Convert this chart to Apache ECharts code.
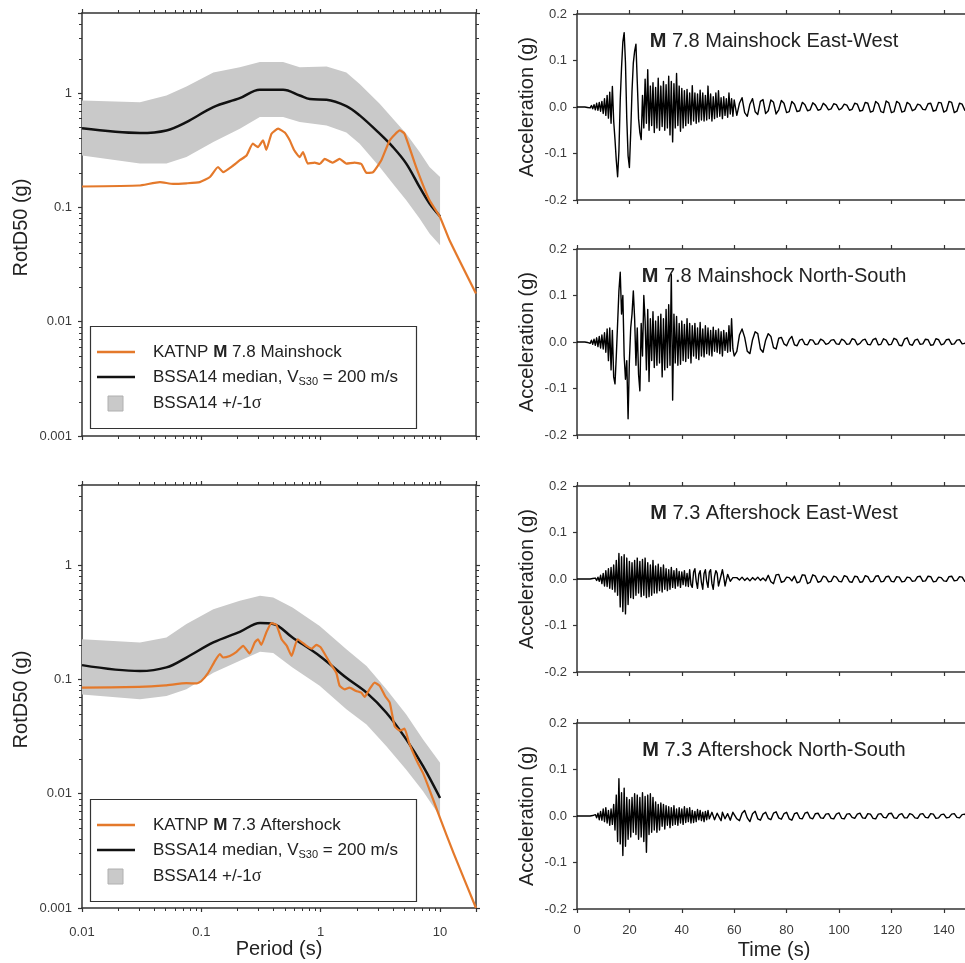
<!DOCTYPE html>
<html>
<head>
<meta charset="utf-8">
<title>KATNP response spectra and acceleration records</title>
<script src="https://cdn.jsdelivr.net/npm/echarts@6/dist/echarts.min.js"></script>
<style>
  html, body { margin: 0; padding: 0; background: #ffffff; }
  #chart { width: 965px; height: 963px; }
</style>
</head>
<body>
<div id="chart"></div>
<script>
// ---------------- Response spectra (RotD50, g) ----------------
// M 7.8 mainshock, KATNP record
const mainObsPeriod = [0.01, 0.03, 0.045, 0.058, 0.075, 0.097, 0.118, 0.138, 0.152, 0.185,
  0.21, 0.239, 0.27, 0.298, 0.329, 0.35, 0.387, 0.44, 0.5, 0.55,
  0.6, 0.667, 0.71, 0.78, 0.89, 0.98, 1.08, 1.26, 1.44, 1.64,
  1.92, 2.19, 2.42, 2.75, 3.22, 3.79, 4.6, 5.04, 6.3, 8.16,
  10, 12, 20];
const mainObsSa = [0.152, 0.155, 0.166, 0.16, 0.162, 0.166, 0.184, 0.225, 0.203, 0.232,
  0.258, 0.284, 0.36, 0.336, 0.385, 0.318, 0.44, 0.487, 0.45, 0.385,
  0.315, 0.275, 0.304, 0.241, 0.246, 0.239, 0.265, 0.246, 0.265, 0.241,
  0.246, 0.239, 0.2, 0.203, 0.258, 0.385, 0.47, 0.44, 0.225, 0.115,
  0.082, 0.0515, 0.0176];

// BSSA14 prediction for the mainshock
const mainMedianPeriod = [0.01, 0.0306, 0.051, 0.075, 0.126, 0.21, 0.309, 0.484, 0.667, 0.81,
  1.12, 1.64, 2.12, 3.12, 4.03, 5.21, 6.74, 8.16, 10];
const mainMedianSa = [0.49, 0.446, 0.47, 0.556, 0.752, 0.9, 1.067, 1.067, 0.95, 0.883,
  0.873, 0.767, 0.636, 0.44, 0.336, 0.241, 0.15, 0.108, 0.0834];
const mainSigmaPeriod = [0.01, 0.0306, 0.051, 0.075, 0.126, 0.21, 0.309, 0.484, 0.667, 1.12,
  1.64, 2.12, 3.12, 4.03, 5.21, 6.74, 8.16, 10];
const mainSigmaUpper = [0.86, 0.83, 0.95, 1.14, 1.51, 1.68, 1.86, 1.86, 1.68, 1.7,
  1.51, 1.2, 0.805, 0.595, 0.44, 0.304, 0.225, 0.184];
const mainSigmaLower = [0.284, 0.241, 0.241, 0.275, 0.372, 0.487, 0.615, 0.615, 0.556, 0.52,
  0.45, 0.36, 0.225, 0.161, 0.115, 0.0796, 0.0589, 0.0466];

// M 7.3 aftershock, KATNP record
const afterObsPeriod = [0.01, 0.03, 0.05, 0.075, 0.091, 0.1, 0.114, 0.13, 0.143, 0.152,
  0.173, 0.197, 0.224, 0.254, 0.28, 0.298, 0.318, 0.35, 0.387, 0.425,
  0.47, 0.52, 0.57, 0.64, 0.76, 0.84, 0.92, 1.0, 1.19, 1.35,
  1.44, 1.59, 1.74, 1.98, 2.19, 2.33, 2.56, 2.83, 3.12, 3.47,
  3.79, 4.16, 4.6, 5.04, 5.5, 6.3, 7.2, 8.16, 10, 13,
  20];
const afterObsSa = [0.0844, 0.086, 0.0886, 0.0925, 0.092, 0.0966, 0.114, 0.145, 0.166, 0.155,
  0.16, 0.174, 0.196, 0.168, 0.21, 0.224, 0.2, 0.257, 0.31, 0.3,
  0.224, 0.196, 0.16, 0.224, 0.196, 0.185, 0.2, 0.19, 0.14, 0.114,
  0.0876, 0.0817, 0.0844, 0.079, 0.0764, 0.07, 0.0817, 0.0934, 0.0876, 0.071,
  0.0623, 0.039, 0.0355, 0.037, 0.0278, 0.0199, 0.0151, 0.0108, 0.0061, 0.003,
  0.001];

// BSSA14 prediction for the aftershock
const afterModelPeriod = [0.01, 0.0306, 0.051, 0.075, 0.126, 0.21, 0.31, 0.4, 0.58, 0.98,
  1.64, 2.42, 3.55, 5.21, 7.2, 10];
const afterMedianSa = [0.133, 0.118, 0.127, 0.155, 0.21, 0.26, 0.31, 0.305, 0.232, 0.16,
  0.103, 0.0764, 0.051, 0.0298, 0.0174, 0.00916];
const afterSigmaUpper = [0.224, 0.21, 0.232, 0.304, 0.41, 0.486, 0.538, 0.52, 0.425, 0.293,
  0.183, 0.131, 0.0817, 0.0493, 0.0298, 0.0186];
const afterSigmaLower = [0.0738, 0.0668, 0.0715, 0.0817, 0.114, 0.145, 0.174, 0.17, 0.127, 0.0876,
  0.0546, 0.0403, 0.026, 0.0162, 0.0105, 0.0063];

// ---------------- Acceleration records (milli-g) ----------------
// Samples every 0.5 s from 0 to 60 s (121 values), then every 1 s from 61 to 150 s (90 values).
const mainEW_mg = [
  0, 0, 0, 0, 0, 0, 0, 1, -1, 2,
  -2, 3, -4, 5, -6, 8, -7, 10, -9, 12,
  -14, 18, -18, 25, -24, 32, -35, 44, -30, -70,
  -115, -150, -95, 15, 85, 140, 160, 95, -25, -105,
  -130, -55, 35, 95, 120, 135, 55, -25, -55, -70,
  25, -45, 60, -35, 80, -50, 45, -40, 52, -55,
  42, -45, 62, -50, 45, -42, 55, -50, 48, -45,
  66, -60, 55, -75, 50, -45, 72, -40, 45, -52,
  40, -45, 35, -40, 38, -35, 30, -38, 46, -30,
  30, -35, 28, -32, 36, -28, 30, -30, 25, -28,
  45, -25, 28, -30, 22, -25, 30, -22, 35, -20,
  20, -25, 22, -18, 18, -22, 30, -15, 18, -20,
  15,
  -18, 8, 20, -12, -20, 6, 18, -10, -16, 12,
  16, -14, -8, 15, 10, -15, -6, 14, 8, -12,
  -10, 12, 6, -10, -8, 10, 5, -8, -6, 9,
  4, -7, -5, 8, 3, -6, -4, 7, 5, -6,
  -3, 6, 4, -7, -5, 8, 6, -9, -7, 10,
  8, -11, -9, 12, 7, -10, -12, 13, 9, -12,
  -10, 12, 8, -11, -9, 10, 6, -8, -5, 6,
  4, -5, -6, 7, 8, -9, -7, 10, 9, -11,
  -8, 12, 10, -12, -9, 8, 6, -7, -5, 6
];
const mainNS_mg = [
  0, 0, 0, 0, 0, 0, 0, 1, -1, 2,
  -3, 4, -5, 6, -7, 9, -10, 12, -13, 15,
  -15, 20, -22, 28, -40, 30, -60, 25, -75, -90,
  -30, 40, 110, 150, 60, 100, -30, -80, -40, -165,
  -40, 30, 60, 110, 50, -50, 30, -70, -105, 40,
  -30, 100, 45, -60, 70, -85, 50, -40, 65, -55,
  45, -50, 55, -45, 60, -75, 50, -60, 70, -55,
  80, -50, 145, -125, 60, -45, 55, -50, 40, -48,
  45, -40, 38, -42, 50, -35, 40, -45, 35, -30,
  40, -35, 30, -38, 42, -30, 28, -32, 35, -25,
  30, -28, 25, -30, 32, -20, 25, -22, 28, -25,
  22, -30, 25, -18, 20, -22, 35, -20, 50, -15,
  -30,
  -20, 15, 28, 10, -20, -25, 5, 22, 18, -15,
  -22, 4, 18, 12, -12, -15, 8, 10, -4, -8,
  5, 12, -6, -8, 4, 6, -5, -6, 5, 4,
  -5, -4, 6, 3, -5, -3, 4, 5, -4, -5,
  6, 3, -5, -4, 7, 5, -6, -3, 4, 6,
  -5, -6, 5, 8, -6, -5, 7, 4, -6, -5,
  8, 5, -7, -8, 6, 9, -5, -7, 4, 6,
  -5, -4, 6, 5, -7, -6, 7, 5, -6, -4,
  5, 6, -5, -4, 4, 5, -4, -3, 3, 2
];
const afterEW_mg = [
  0, 0, 0, 0, 0, 0, 0, 0, 0, 0,
  0, 0, 1, -1, 2, -3, 4, -5, 8, -10,
  12, -15, 18, -16, 22, -20, 25, -22, 30, -28,
  40, -35, 55, -60, 48, -70, 52, -75, 45, -55,
  38, -40, 35, -42, 40, -35, 45, -30, 38, -38,
  42, -35, 45, -40, 35, -38, 30, -35, 40, -30,
  28, -30, 32, -25, 25, -28, 30, -22, 22, -25,
  20, -22, 25, -18, 18, -20, 22, -15, 16, -18,
  15, -12, 18, -15, 12, -16, 20, -12, -18, 15,
  22, -5, -20, 10, 18, -8, -22, 12, 20, -5,
  -18, 15, 20, -10, -22, 5, 18, 12, -15, -18,
  8, 20, 5, -15, -12, 10, 8, -5, -4, 3,
  2,
  3, -2, 4, -3, 2, -4, 3, -2, 4, -3,
  2, -4, 8, -6, -10, 9, 10, -7, -5, 4,
  3, -4, 6, -8, -6, 9, 8, -10, -7, 9,
  6, -7, -5, 6, 4, -6, -5, 6, 4, -5,
  -6, 7, 5, -6, -7, 6, 5, -7, -6, 7,
  5, -6, -5, 6, 7, -6, -5, 5, 6, -5,
  -6, 5, 4, -6, -5, 4, 3, -5, -4, 5,
  6, -5, -4, 6, 5, -6, -5, 4, 3, -4,
  -5, 5, 6, -4, -3, 5, 4, -5, -4, 3
];
const afterNS_mg = [
  0, 0, 0, 0, 0, 0, 0, 0, 0, 0,
  0, 0, 1, -2, 3, -4, 6, -8, 10, -9,
  15, -12, 18, -15, 12, -20, 15, -18, 25, -30,
  45, -55, 80, -60, 50, -85, 60, -65, 40, -50,
  35, -45, 40, -35, 48, -40, 45, -50, 40, -45,
  50, -55, 42, -78, 45, -40, 48, -35, 40, -30,
  30, -35, 25, -30, 28, -22, 25, -28, 22, -20,
  20, -25, 18, -20, 22, -18, 15, -20, 18, -15,
  15, -18, 20, -14, 16, -12, 18, -15, 12, -14,
  10, -12, 14, -8, 12, -10, 8, -12, 10, -8,
  12, -6, -10, 8, 10, -8, -12, 6, 10, -5,
  -10, 8, 9, -6, -8, 5, 7, -9, -6, 8,
  10,
  -6, -10, 6, 12, -4, -12, 5, 10, -6, -9,
  4, 8, -5, -8, 6, 9, -4, -7, 5, 8,
  -6, -9, 5, 7, -5, -6, 6, 8, -4, -6,
  5, 6, -4, -5, 4, 5, -5, -6, 4, 7,
  -5, -6, 4, 5, -3, -5, 4, 6, -4, -5,
  5, 4, -5, -6, 4, 5, -3, -4, 5, 6,
  -4, -5, 3, 5, -4, -4, 5, 3, -4, -5,
  4, 5, -3, -4, 5, 4, -5, -4, 3, 4,
  -4, -3, 4, 5, -3, -4, 3, 4, -3, -2
];

// Axis tick labels
const periodTickLabels = ['0.01', '0.1', '1', '10'];
const saTickLabels = ['0.001', '0.01', '0.1', '1'];
const timeTickLabels = ['0', '20', '40', '60', '80', '100', '120', '140'];
const accTickLabels = ['-0.2', '-0.1', '0.0', '0.1', '0.2'];

// ---------------- Styling / layout ----------------
const FONT = '"Liberation Sans", Arial, Helvetica, sans-serif';
const AXIS_COLOR = '#333333';
const LABEL_COLOR = '#3a3a3a';
const ORANGE = '#E4792B';
const BAND = '#c9c9c9';

const spectraGrids = [
  { left: 82, top: 13, width: 394, height: 423 },
  { left: 82, top: 485, width: 394, height: 423 }
];
const traceTops = [14, 249, 486, 723];
const traceGrids = traceTops.map(top => ({ left: 577, top: top, width: 393, height: 186 }));

// Sample times for the acceleration records
const timeSec = [];
for (let i = 0; i <= 120; i++) timeSec.push(i * 0.5);
for (let t = 61; t <= 150; t++) timeSec.push(t);

function pairs(xs, ys) { return xs.map((x, i) => [x, ys[i]]); }
function traceData(mg) { return timeSec.map((t, i) => [t, mg[i] / 1000]); }

function decadeLabel(list) {
  return function (v) {
    const p = Math.log10(v);
    const r = Math.round(p);
    if (Math.abs(p - r) > 1e-6) return '';
    const s = r < 0 ? Math.pow(10, r).toFixed(-r) : String(Math.pow(10, r));
    return list.indexOf(s) >= 0 ? s : '';
  };
}

const axisLineStyle = { show: true, onZero: false, lineStyle: { color: AXIS_COLOR, width: 1.5 } };
const majorTick = { show: true, inside: false, length: 4, lineStyle: { color: AXIS_COLOR, width: 1.2 } };
const labelBase = { color: LABEL_COLOR, fontSize: 13, fontFamily: FONT };

function logX(gridIndex, position, showLabels) {
  return {
    type: 'log', logBase: 10, min: 0.01, max: 20, gridIndex, position,
    axisLine: axisLineStyle, axisTick: majorTick, splitLine: { show: false },
    axisLabel: Object.assign({ show: showLabels, margin: 18, formatter: decadeLabel(periodTickLabels) }, labelBase)
  };
}
function logY(gridIndex, position, showLabels) {
  return {
    type: 'log', logBase: 10, min: 0.001, max: 5, gridIndex, position,
    axisLine: axisLineStyle, axisTick: majorTick, splitLine: { show: false },
    axisLabel: Object.assign({ show: showLabels, margin: 10, formatter: decadeLabel(saTickLabels) }, labelBase)
  };
}
function timeX(gridIndex, position, showLabels) {
  return {
    type: 'value', min: 0, max: 150, interval: 20, gridIndex, position,
    axisLine: axisLineStyle, axisTick: majorTick, splitLine: { show: false },
    axisLabel: Object.assign({
      show: showLabels, margin: 15,
      formatter: v => { const s = String(Math.round(v)); return timeTickLabels.indexOf(s) >= 0 ? s : ''; }
    }, labelBase)
  };
}
function accY(gridIndex) {
  return {
    type: 'value', min: -0.2, max: 0.2, interval: 0.1, gridIndex, position: 'left',
    axisLine: axisLineStyle, axisTick: majorTick, splitLine: { show: false },
    axisLabel: Object.assign({
      margin: 10,
      formatter: v => { const s = Math.abs(v) < 1e-9 ? '0.0' : v.toFixed(1); return accTickLabels.indexOf(s) >= 0 ? s : ''; }
    }, labelBase)
  };
}

// Minor tick positions on the log axes (2..9 within each decade)
const minorPeriodTicks = [];
for (let e = -2; e <= 1; e++) for (let m = 2; m <= 9; m++) { const v = m * Math.pow(10, e); if (v < 20) minorPeriodTicks.push(v); }
const minorSaTicks = [];
for (let e = -3; e <= 0; e++) for (let m = 2; m <= 9; m++) { const v = m * Math.pow(10, e); if (v < 5) minorSaTicks.push(v); }

function minorTickSeries(gi) {
  return {
    type: 'custom', xAxisIndex: gi * 2, yAxisIndex: gi * 2, data: [[1, 1]], clip: false, silent: true, z: 5,
    renderItem(params, api) {
      const cs = params.coordSys;
      const st = { stroke: AXIS_COLOR, lineWidth: 1 };
      const children = [];
      minorPeriodTicks.forEach(v => {
        const x = Math.round(api.coord([v, 1])[0]) + 0.5;
        children.push({ type: 'line', shape: { x1: x, y1: cs.y + cs.height, x2: x, y2: cs.y + cs.height + 3 }, style: st });
        children.push({ type: 'line', shape: { x1: x, y1: cs.y, x2: x, y2: cs.y - 3 }, style: st });
      });
      minorSaTicks.forEach(v => {
        const y = Math.round(api.coord([1, v])[1]) + 0.5;
        children.push({ type: 'line', shape: { x1: cs.x, y1: y, x2: cs.x - 3, y2: y }, style: st });
        children.push({ type: 'line', shape: { x1: cs.x + cs.width, y1: y, x2: cs.x + cs.width + 3, y2: y }, style: st });
      });
      return { type: 'group', children };
    }
  };
}

function sigmaBandSeries(gi, periods, lower, upper) {
  return {
    type: 'custom', xAxisIndex: gi * 2, yAxisIndex: gi * 2, data: [[periods[0], lower[0]]], silent: true, z: 1,
    renderItem(params, api) {
      const pts = [];
      periods.forEach((p, i) => pts.push(api.coord([p, upper[i]])));
      for (let i = periods.length - 1; i >= 0; i--) pts.push(api.coord([periods[i], lower[i]]));
      return { type: 'polygon', shape: { points: pts }, style: { fill: BAND } };
    }
  };
}

function lineSeries(xi, yi, data, color, width, z, smooth) {
  return {
    type: 'line', xAxisIndex: xi, yAxisIndex: yi, data, symbol: 'none', showSymbol: false,
    lineStyle: { color, width, join: 'round' }, silent: true, z, sampling: 'none', smooth: smooth || false
  };
}

// ---------------- Legends and text ----------------
function legendBox(top, label) {
  const x0 = 90;
  const richText = {
    b: { fontWeight: 'bold', fontSize: 17, fontFamily: FONT, fill: '#222' },
    sub: { fontSize: 11, fontFamily: FONT, lineHeight: 11, verticalAlign: 'bottom', fill: '#222' },
    sig: { fontSize: 18, fontFamily: '"Liberation Serif", "DejaVu Serif", serif', fill: '#222' }
  };
  const txt = (y, s) => ({
    type: 'text', x: 153, y, z: 12,
    style: { text: s, fontSize: 17, fontFamily: FONT, fill: '#222', lineHeight: 20,
      textAlign: 'left', textVerticalAlign: 'middle', rich: richText }
  });
  return [
    { type: 'rect', z: 10, shape: { x: x0 + 0.5, y: top + 0.5, width: 326, height: 102 },
      style: { fill: '#ffffff', stroke: '#333', lineWidth: 1.2 } },
    { type: 'line', z: 11, shape: { x1: 97, y1: top + 26, x2: 135, y2: top + 26 }, style: { stroke: ORANGE, lineWidth: 2.5 } },
    { type: 'line', z: 11, shape: { x1: 97, y1: top + 51, x2: 135, y2: top + 51 }, style: { stroke: '#111', lineWidth: 2.5 } },
    { type: 'rect', z: 11, shape: { x: 108, y: top + 70, width: 15, height: 15 }, style: { fill: BAND, stroke: '#b0b0b0', lineWidth: 1 } },
    txt(top + 26, label),
    txt(top + 51, 'BSSA14 median, V{sub|S30} = 200 m/s'),
    txt(top + 77, 'BSSA14 +/-1{sig|σ}')
  ];
}

const traceTitles = [
  '{b|M} 7.8 Mainshock East-West',
  '{b|M} 7.8 Mainshock North-South',
  '{b|M} 7.3 Aftershock East-West',
  '{b|M} 7.3 Aftershock North-South'
];

const graphics = [];
spectraGrids.forEach(g => {
  graphics.push({ type: 'text', x: 21, y: g.top + g.height / 2 + 3, rotation: Math.PI / 2, z: 1,
    style: { text: 'RotD50 (g)', fontSize: 20, fontFamily: FONT, fill: '#222', textAlign: 'center', textVerticalAlign: 'middle' } });
});
graphics.push({ type: 'text', x: 279, y: 949, z: 1,
  style: { text: 'Period (s)', fontSize: 20, fontFamily: FONT, fill: '#222', textAlign: 'center', textVerticalAlign: 'middle' } });
traceGrids.forEach((g, k) => {
  graphics.push({ type: 'text', x: 527, y: g.top + g.height / 2, rotation: Math.PI / 2, z: 1,
    style: { text: 'Acceleration (g)', fontSize: 20, fontFamily: FONT, fill: '#222', textAlign: 'center', textVerticalAlign: 'middle' } });
  graphics.push({ type: 'text', x: 774, y: g.top + 27, z: 1,
    style: { text: traceTitles[k], fontSize: 20, fontFamily: FONT, fill: '#222', textAlign: 'center', textVerticalAlign: 'middle',
      rich: { b: { fontWeight: 'bold', fontSize: 20, fontFamily: FONT, fill: '#222' } } } });
});
graphics.push({ type: 'text', x: 774, y: 950, z: 1,
  style: { text: 'Time (s)', fontSize: 20, fontFamily: FONT, fill: '#222', textAlign: 'center', textVerticalAlign: 'middle' } });
legendBox(326, 'KATNP {b|M} 7.8 Mainshock').forEach(e => graphics.push(e));
legendBox(799, 'KATNP {b|M} 7.3 Aftershock').forEach(e => graphics.push(e));

// ---------------- Assemble ----------------
const grid = spectraGrids.concat(traceGrids).map(g => Object.assign({ containLabel: false, outerBoundsMode: 'none' }, g));

const xAxis = [
  logX(0, 'bottom', false), logX(0, 'top', false),
  logX(1, 'bottom', true), logX(1, 'top', false)
];
const yAxis = [
  logY(0, 'left', true), logY(0, 'right', false),
  logY(1, 'left', true), logY(1, 'right', false)
];
traceGrids.forEach((g, k) => {
  xAxis.push(timeX(2 + k, 'bottom', k === 3));
  xAxis.push(timeX(2 + k, 'top', false));
  yAxis.push(accY(2 + k));
});

const traces = [mainEW_mg, mainNS_mg, afterEW_mg, afterNS_mg];

const series = [
  sigmaBandSeries(0, mainSigmaPeriod, mainSigmaLower, mainSigmaUpper),
  lineSeries(0, 0, pairs(mainMedianPeriod, mainMedianSa), '#111111', 2.5, 3, 0.35),
  lineSeries(0, 0, pairs(mainObsPeriod, mainObsSa), ORANGE, 2.2, 4, 0.15),
  minorTickSeries(0),
  sigmaBandSeries(1, afterModelPeriod, afterSigmaLower, afterSigmaUpper),
  lineSeries(2, 2, pairs(afterModelPeriod, afterMedianSa), '#111111', 2.5, 3, 0.35),
  lineSeries(2, 2, pairs(afterObsPeriod, afterObsSa), ORANGE, 2.2, 4, 0.15),
  minorTickSeries(1)
];
traces.forEach((mg, k) => {
  series.push(lineSeries(4 + 2 * k, 4 + k, traceData(mg), '#000000', 1.4, 3));
});

const chart = echarts.init(document.getElementById('chart'), null, { renderer: 'canvas' });
chart.setOption({
  backgroundColor: '#ffffff',
  animation: false,
  textStyle: { fontFamily: FONT },
  grid, xAxis, yAxis, series,
  graphic: graphics
});
</script>
</body>
</html>
